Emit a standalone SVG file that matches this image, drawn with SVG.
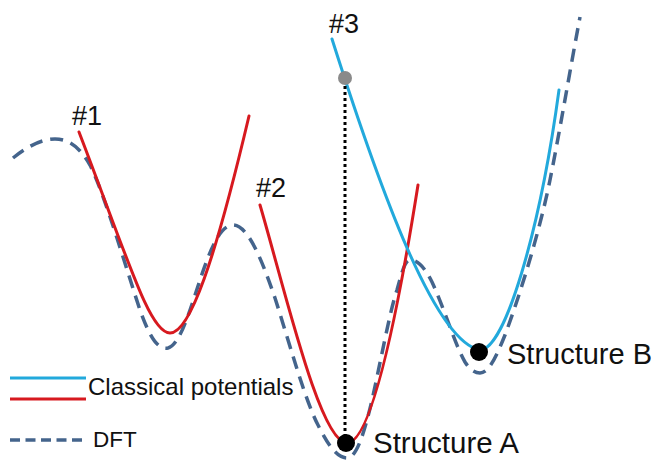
<svg xmlns="http://www.w3.org/2000/svg" width="657" height="461" viewBox="0 0 657 461">
<style>
text{font-family:"Liberation Sans",Arial,sans-serif;fill:#111}
.red{fill:none;stroke:#d7191f;stroke-width:3;stroke-linecap:round}
.blue{fill:none;stroke:#22a9dc;stroke-width:3;stroke-linecap:round}
.dft{fill:none;stroke:#44648c;stroke-width:3.5;stroke-dasharray:13 8}
</style>
<rect width="657" height="461" fill="#fff"/>
<g id="dft">
<path class="dft" d="M13,158 C28,146 42,139 55,139 C70,139 80,148 90,165 C105,195 125,265 140,310 C150,338 158,350 168,348 C180,345 190,310 200,280 C210,250 220,225 233,225 C248,225 262,260 275,298 C290,345 305,400 318,425 C328,445 337,458 347,458 C357,458 365,430 372,400 C380,365 390,310 397,290 C402,272 405,260 410,260 C418,260 425,268 432,282 C445,310 455,345 465,362 C470,370 475,373 480,373 C488,373 495,360 505,335 C520,295 540,230 550,180 C560,130 570,70 580,17"/>
</g>
<g id="curve1">
<path class="red" d="M79,132 C130,265 150,333 170,333 C190,333 215,260 249,116"/>
</g>
<g id="curve2">
<path class="red" d="M260,205 C285,290 320,443 347,443 C370,443 395,330 418,185"/>
</g>
<g id="curve3">
<path class="blue" d="M332,39 C380,190 435,342 480,350 C505,350 540,230 559,90"/>
</g>
<g id="connectors">
<line x1="345" y1="80" x2="345" y2="440" stroke="#000" stroke-width="3" stroke-dasharray="3 3"/>
</g>
<g id="point3"><circle cx="345" cy="78" r="7" fill="#8a8a8a"/></g>
<g id="structureA"><circle cx="346" cy="443" r="9" fill="#000"/><text x="373" y="453" font-size="29.5">Structure A</text></g>
<g id="structureB"><circle cx="479" cy="352" r="9" fill="#000"/><text x="507" y="364" font-size="29">Structure B</text></g>
<g id="labels">
<text x="72" y="125" font-size="27">#1</text>
<text x="256" y="197" font-size="27">#2</text>
<text x="329" y="33" font-size="27">#3</text>
</g>
<g id="legend">
<line x1="10" y1="378" x2="86" y2="378" stroke="#22a9dc" stroke-width="3"/>
<line x1="10" y1="399" x2="86" y2="399" stroke="#d7191f" stroke-width="3"/>
<text x="88" y="395" font-size="24">Classical potentials</text>
<line x1="10" y1="440" x2="82" y2="440" stroke="#44648c" stroke-width="3.5" stroke-dasharray="10 5.5"/>
<text x="93" y="447" font-size="22.5">DFT</text>
</g>
</svg>
